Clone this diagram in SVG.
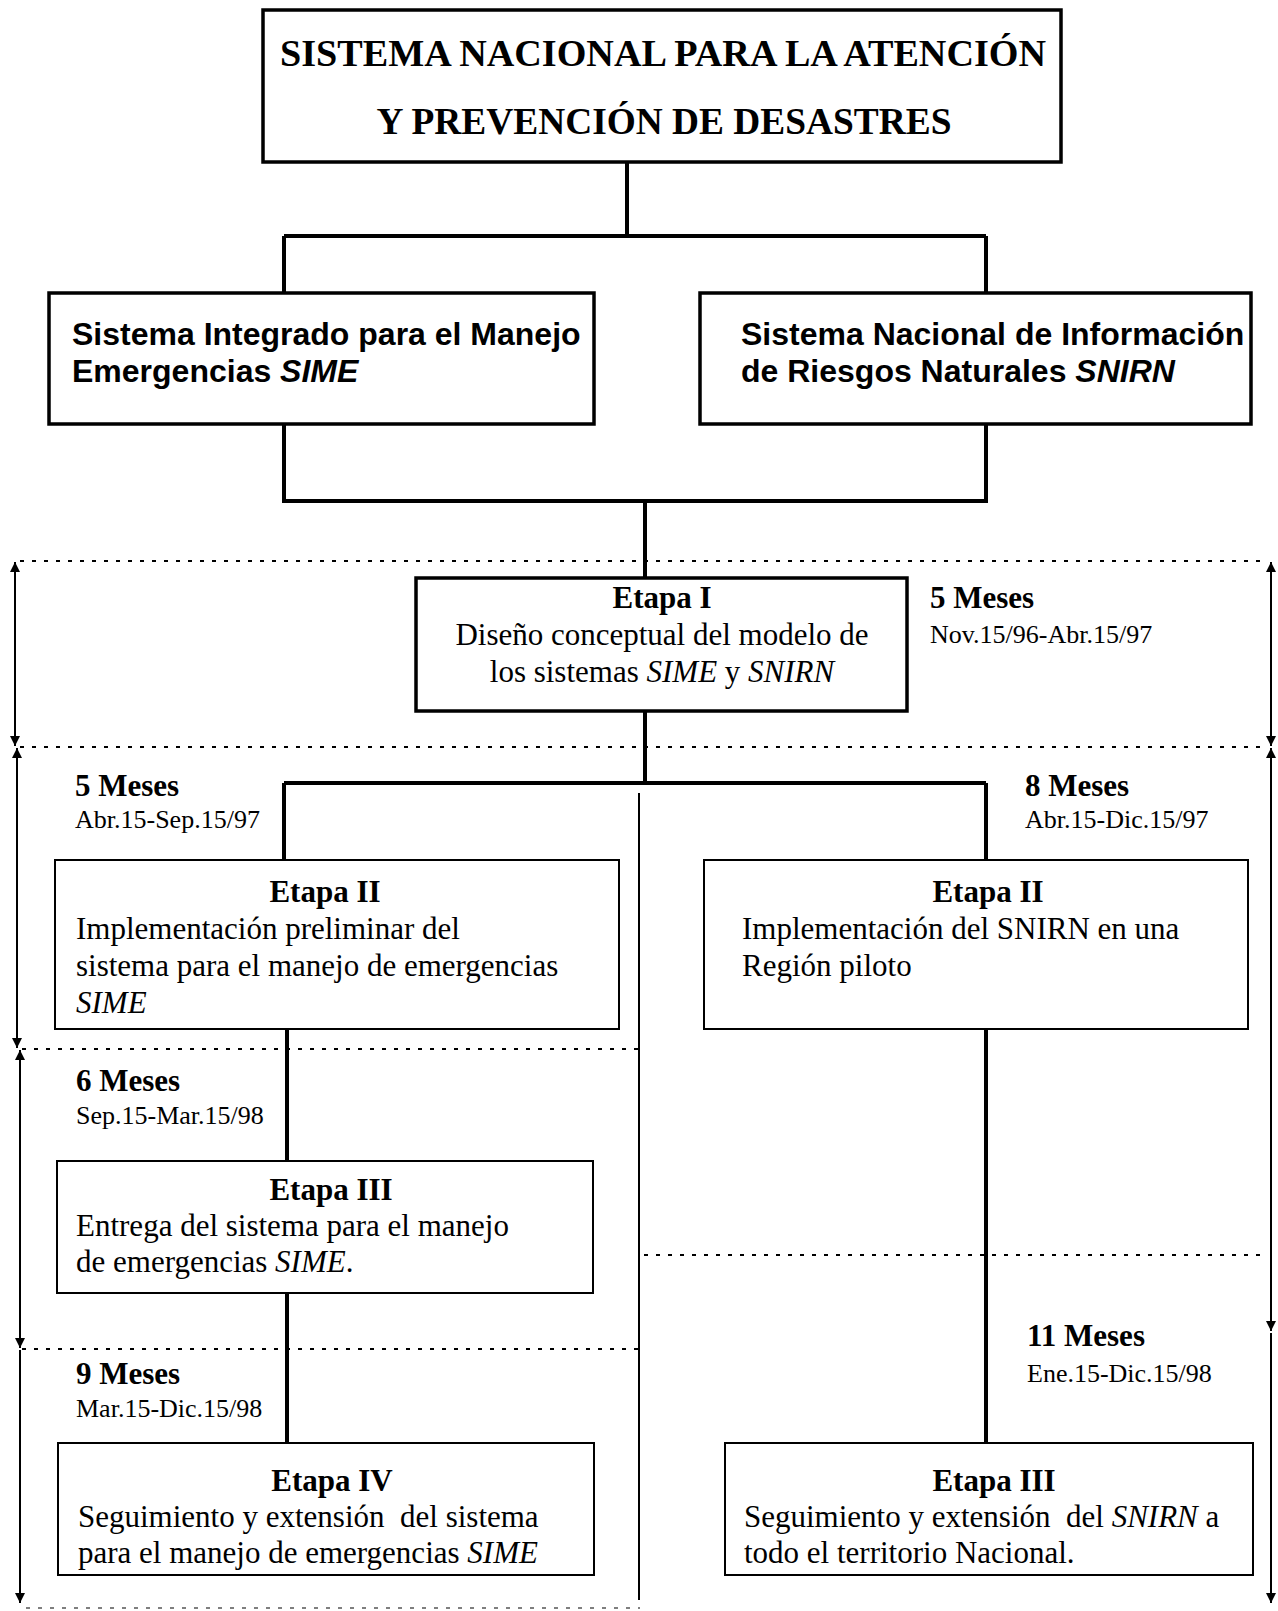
<svg xmlns="http://www.w3.org/2000/svg" width="1278" height="1611" viewBox="0 0 1278 1611">
<defs>
<marker id="ah" markerUnits="userSpaceOnUse" markerWidth="10" markerHeight="10" refX="10" refY="5" orient="auto-start-reverse"><path d="M0,0 L10,5 L0,10 z" fill="#000"/></marker>
<style>
.thick{fill:#fff;stroke:#000;stroke-width:3.5}
.thin{fill:#fff;stroke:#000;stroke-width:2}
.con{stroke:#000;stroke-width:4;fill:none}
.sep{stroke:#000;stroke-width:2;fill:none}
.dot{stroke:#000;stroke-width:2;stroke-dasharray:4 8;fill:none}
.dim{stroke:#000;stroke-width:2;fill:none;marker-start:url(#ah);marker-end:url(#ah)}
.title{font-family:"Liberation Serif",serif;font-weight:bold;font-size:38px}
.sans{font-family:"Liberation Sans",Arial,sans-serif;font-weight:bold;font-size:32px}
.serif{font-family:"Liberation Serif",serif;font-size:31px}
.hd{font-family:"Liberation Serif",serif;font-size:31px;font-weight:bold}
.date{font-family:"Liberation Serif",serif;font-size:26px}
.it{font-style:italic}
</style>
</defs>
<rect width="1278" height="1611" fill="#fff"/>

<g id="connectors">
<path class="con" d="M627,162 V236 M284,236 H986 M284,236 V293 M986,236 V293"/>
<path class="con" d="M284,424 V501 H986 V424 M645,501 V578"/>
<path class="con" d="M645,711 V783 M284,783 H986 M284,783 V860 M986,783 V860"/>
<path class="con" d="M287,1029 V1161 M287,1293 V1443"/>
<path class="con" d="M986,1029 V1443"/>
<path class="sep" d="M639,793 V1600"/>
<path class="dot" d="M20,561 H1266 M20,747 H1266 M22,1049 H642 M22,1349 H642 M644,1255 H1260"/>
<path class="dot" d="M26,1608 H640" stroke-opacity="0.5"/>
<path class="dim" d="M15,562 V746"/>
<path class="dim" d="M17,748 V1048"/>
<path class="dim" d="M20,1050 V1348"/>
<path class="dim" d="M20,1350 V1603" style="marker-start:none"/>
<path class="dim" d="M1271,562 V746"/>
<path class="dim" d="M1271,748 V1331"/>
<path class="dim" d="M1271,1333 V1603" style="marker-start:none"/>
</g>

<g id="top">
<rect class="thick" x="263" y="10" width="798" height="152"/>
<text class="title" x="663" y="66" text-anchor="middle" textLength="766" lengthAdjust="spacingAndGlyphs">SISTEMA NACIONAL PARA LA ATENCIÓN</text>
<text class="title" x="664" y="134" text-anchor="middle" textLength="575" lengthAdjust="spacingAndGlyphs">Y PREVENCIÓN DE DESASTRES</text>
</g>

<g id="sime">
<rect class="thick" x="49" y="293" width="545" height="131"/>
<text class="sans" x="72" y="345">Sistema Integrado para el Manejo</text>
<text class="sans" x="72" y="382">Emergencias <tspan class="it">SIME</tspan></text>
</g>

<g id="snirn">
<rect class="thick" x="700" y="293" width="551" height="131"/>
<text class="sans" x="741" y="345">Sistema Nacional de Información</text>
<text class="sans" x="741" y="382">de Riesgos Naturales <tspan class="it">SNIRN</tspan></text>
</g>

<g id="etapa1">
<rect class="thick" x="416" y="578" width="491" height="133"/>
<text class="hd" x="662" y="608" text-anchor="middle">Etapa I</text>
<text class="serif" x="662" y="645" text-anchor="middle">Diseño conceptual del modelo de</text>
<text class="serif" x="662" y="682" text-anchor="middle">los sistemas <tspan class="it">SIME</tspan> y <tspan class="it">SNIRN</tspan></text>
<text class="hd" x="930" y="608">5 Meses</text>
<text class="date" x="930" y="643">Nov.15/96-Abr.15/97</text>
</g>

<g id="etapa2-sime">
<text class="hd" x="75" y="796">5 Meses</text>
<text class="date" x="75" y="828">Abr.15-Sep.15/97</text>
<rect class="thin" x="55" y="860" width="564" height="169"/>
<text class="hd" x="325" y="902" text-anchor="middle">Etapa II</text>
<text class="serif" x="76" y="939">Implementación preliminar del</text>
<text class="serif" x="76" y="976">sistema para el manejo de emergencias</text>
<text class="serif it" x="76" y="1013">SIME</text>
</g>

<g id="etapa2-snirn">
<text class="hd" x="1025" y="796">8 Meses</text>
<text class="date" x="1025" y="828">Abr.15-Dic.15/97</text>
<rect class="thin" x="704" y="860" width="544" height="169"/>
<text class="hd" x="988" y="902" text-anchor="middle">Etapa II</text>
<text class="serif" x="742" y="939">Implementación del SNIRN en una</text>
<text class="serif" x="742" y="976">Región piloto</text>
</g>

<g id="etapa3-sime">
<text class="hd" x="76" y="1091">6 Meses</text>
<text class="date" x="76" y="1124">Sep.15-Mar.15/98</text>
<rect class="thin" x="57" y="1161" width="536" height="132"/>
<text class="hd" x="331" y="1200" text-anchor="middle">Etapa III</text>
<text class="serif" x="76" y="1236">Entrega del sistema para el manejo</text>
<text class="serif" x="76" y="1272">de emergencias <tspan class="it">SIME</tspan>.</text>
</g>

<g id="etapa4-sime">
<text class="hd" x="76" y="1384">9 Meses</text>
<text class="date" x="76" y="1417">Mar.15-Dic.15/98</text>
<rect class="thin" x="58" y="1443" width="536" height="132"/>
<text class="hd" x="332" y="1491" text-anchor="middle">Etapa IV</text>
<text class="serif" x="78" y="1527" xml:space="preserve">Seguimiento y extensión  del sistema</text>
<text class="serif" x="78" y="1563">para el manejo de emergencias <tspan class="it">SIME</tspan></text>
</g>

<g id="etapa3-snirn">
<text class="hd" x="1027" y="1346">11 Meses</text>
<text class="date" x="1027" y="1382">Ene.15-Dic.15/98</text>
<rect class="thin" x="725" y="1443" width="528" height="132"/>
<text class="hd" x="994" y="1491" text-anchor="middle">Etapa III</text>
<text class="serif" x="744" y="1527" xml:space="preserve">Seguimiento y extensión  del <tspan class="it">SNIRN</tspan> a</text>
<text class="serif" x="744" y="1563">todo el territorio Nacional.</text>
</g>
</svg>
